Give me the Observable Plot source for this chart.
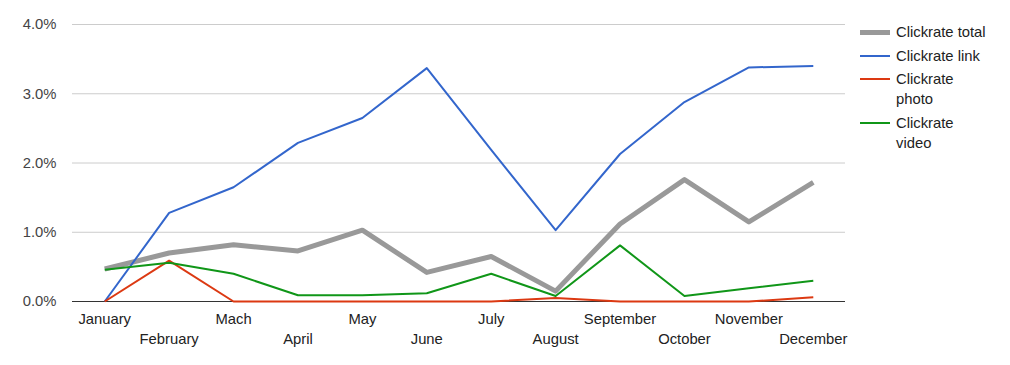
<!DOCTYPE html>
<html>
<head>
<meta charset="utf-8">
<script src="https://cdn.jsdelivr.net/npm/d3@7"></script>
<script src="https://cdn.jsdelivr.net/npm/@observablehq/plot@0.6"></script>
<style>
  body { margin: 0; background: #fff; font-family: Arial, "Liberation Sans", sans-serif; }
  #wrap { position: relative; width: 1010px; height: 365px; }
  #legend { position: absolute; left: 860px; top: 22px; font-size: 14.8px; color: #222; }
  .item { display: flex; align-items: flex-start; margin-bottom: 3.5px; }
  .sw { width: 30px; margin-right: 6px; }
  .lab { line-height: 20px; width: 94px; }
</style>
</head>
<body>
<div id="wrap"><div id="legend"></div></div>
<script>
const months = ["January","February","Mach","April","May","June","July","August","September","October","November","December"];
const seriesNames = ["Clickrate total","Clickrate link","Clickrate photo","Clickrate video"];
const total = [0.47,0.70,0.82,0.73,1.03,0.42,0.65,0.15,1.12,1.76,1.15,1.72];
const link  = [0.00,1.28,1.65,2.29,2.65,3.37,2.19,1.03,2.13,2.88,3.38,3.40];
const photo = [0.00,0.59,0.00,0.00,0.00,0.00,0.00,0.05,0.00,0.00,0.00,0.06];
const video = [0.46,0.56,0.40,0.09,0.09,0.12,0.40,0.08,0.81,0.08,0.19,0.30];
const yTicks = [0,1,2,3,4];

const seriesValues = [total, link, photo, video];
const colors = ["#999999","#3366cc","#dc3912","#109618"];
const widths = [5, 2, 2, 2];

const rows = [];
seriesNames.forEach((s, k) => months.forEach((m, i) => rows.push({series: s, month: m, value: seriesValues[k][i]})));

const font = "Arial, 'Liberation Sans', sans-serif";
const fs = 14.8;
const lineMarks = seriesNames.map((s, k) =>
  Plot.line(rows.filter(r => r.series === s), {x: "month", y: "value", stroke: colors[k], strokeWidth: widths[k], strokeLinejoin: "round", strokeLinecap: "butt"})
);

const chart = Plot.plot({
  width: 1010,
  height: 365,
  marginLeft: 72,
  marginRight: 165,
  marginTop: 24,
  marginBottom: 64,
  style: {fontFamily: font, fontSize: fs + "px", background: "transparent"},
  x: {type: "point", domain: months, padding: 0.5, round: false, label: null},
  y: {domain: [0, 4], label: null},
  marks: [
    Plot.gridY(yTicks.filter(d => d > 0), {stroke: "#cccccc", strokeOpacity: 1}),
    Plot.axisY(yTicks, {tickSize: 0, tickPadding: 16, tickFormat: d => d.toFixed(1) + "%", fill: "#444", fontSize: fs}),
    Plot.axisX(months.filter((d, i) => i % 2 === 0), {tickSize: 0, tickPadding: 12, fill: "#222", fontSize: fs}),
    Plot.axisX(months.filter((d, i) => i % 2 === 1), {tickSize: 0, tickPadding: 32, fill: "#222", fontSize: fs}),
    Plot.ruleY([0], {stroke: "#333"}),
    ...lineMarks
  ]
});
const wrap = document.getElementById("wrap");
wrap.insertBefore(chart, wrap.firstChild);

const legend = document.getElementById("legend");
seriesNames.forEach((s, k) => {
  const it = document.createElement("div");
  it.className = "item";
  const sw = document.createElement("div");
  sw.className = "sw";
  sw.style.height = widths[k] + "px";
  sw.style.background = colors[k];
  sw.style.marginTop = ((20 - widths[k]) / 2) + "px";
  const lab = document.createElement("div");
  lab.className = "lab";
  lab.textContent = s;
  it.appendChild(sw); it.appendChild(lab);
  legend.appendChild(it);
});
</script>
</body>
</html>
